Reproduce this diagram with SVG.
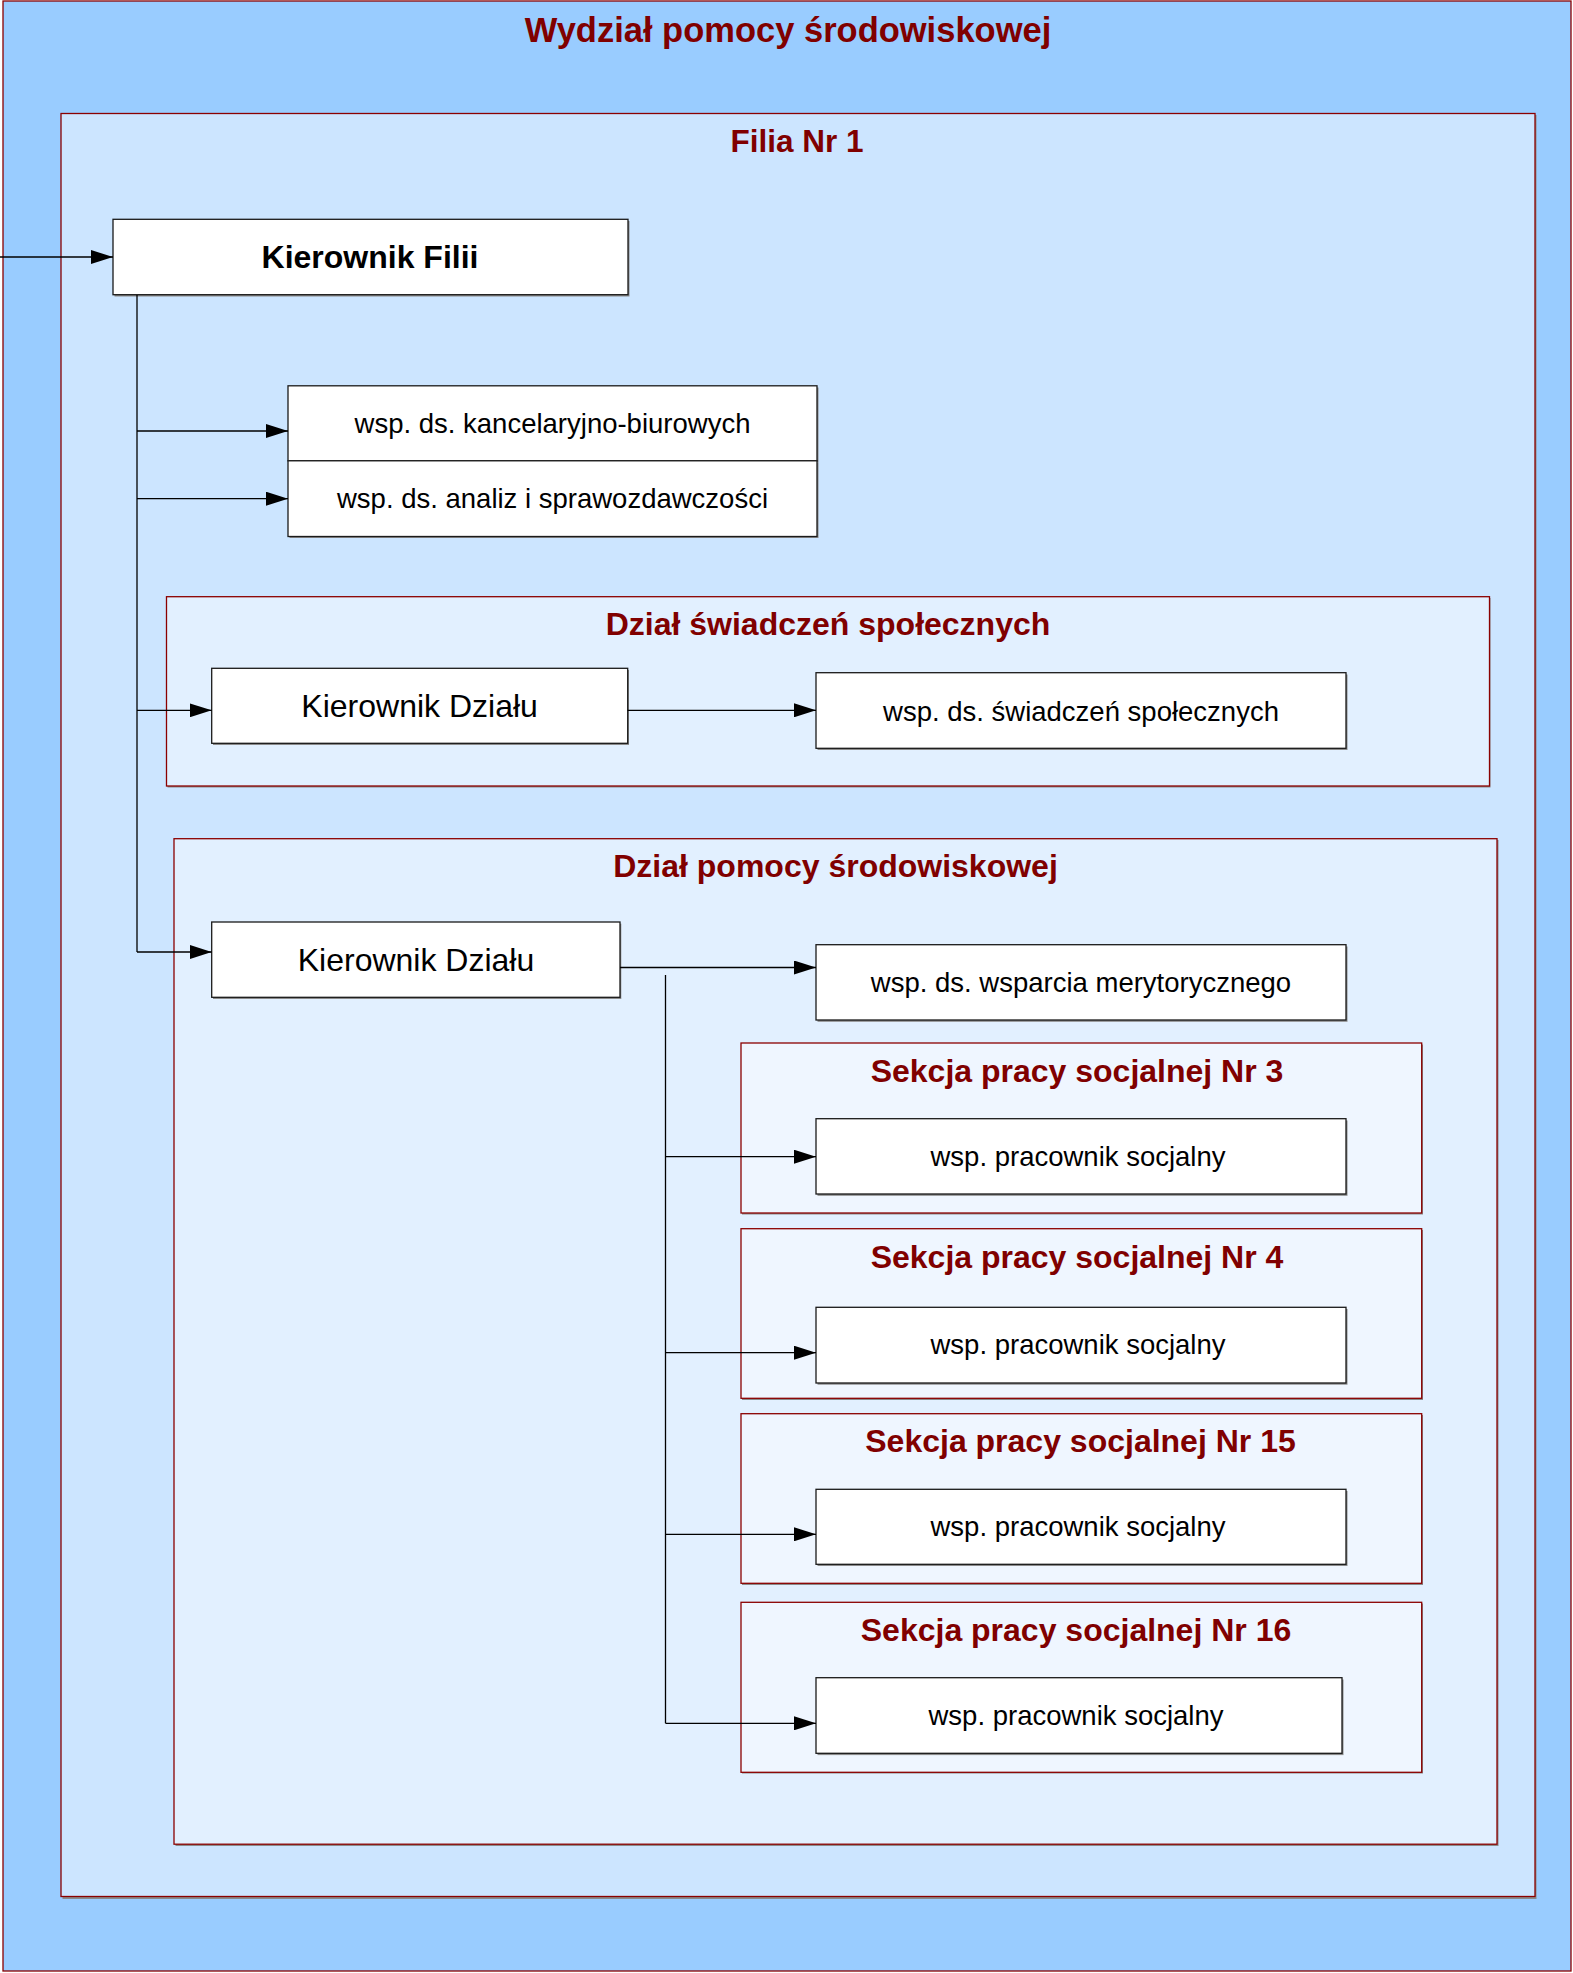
<svg xmlns="http://www.w3.org/2000/svg" width="1573" height="1973" viewBox="0 0 1573 1973">
  <style>
    .cont { stroke: #8b0000; stroke-width: 1.3; }
    .c0 { fill: #99ccff; }
    .c1 { fill: #cce5ff; }
    .c2 { fill: #e2f0ff; }
    .c3 { fill: #eff6ff; }
    .shadow { fill: #8a8a8a; }
    .node { fill: #ffffff; stroke: #1a1a1a; stroke-width: 1.3; }
    .title { font-family: "Liberation Sans", Arial, sans-serif; font-weight: bold; fill: #800000; text-anchor: middle; }
    .t32 { font-size: 32px; }
    .lbl { font-family: "Liberation Sans", Arial, sans-serif; fill: #000; text-anchor: middle; font-size: 27.5px; }
    .kd { font-size: 32px; }
    .kf { font-size: 32px; font-weight: bold; }
    .conn { fill: none; stroke: #000; stroke-width: 1.3; }
  </style>
  <defs>
    <marker id="arr" markerUnits="userSpaceOnUse" markerWidth="22" markerHeight="14" refX="22" refY="7" orient="auto">
      <path d="M0,0 L22,7 L0,14 z" fill="#000"/>
    </marker>
  </defs>

  <!-- Containers -->
  <g id="wydzial">
    <rect class="cont c0" x="3" y="1" width="1568" height="1970"/>
    <text class="title" x="788" y="42" style="font-size:34.5px">Wydział pomocy środowiskowej</text>
  </g>
  <g id="filia">
    <rect class="shadow" x="62.5" y="115" width="1474" height="1784"/>
    <rect class="cont c1" x="61" y="113.5" width="1474" height="1783"/>
    <text class="title" x="797" y="152" style="font-size:31.5px">Filia Nr 1</text>
  </g>
  <g id="dzial-swiadczen">
    <rect class="shadow" x="167.5" y="598" width="1323" height="189.5"/>
    <rect class="cont c2" x="166.5" y="596.7" width="1323" height="189.3"/>
    <text class="title t32" x="828" y="635">Dział świadczeń społecznych</text>
  </g>
  <g id="dzial-pomocy">
    <rect class="shadow" x="175.5" y="840" width="1323" height="1006"/>
    <rect class="cont c2" x="174" y="838.7" width="1323" height="1005.5"/>
    <text class="title t32" x="835.5" y="876.7">Dział pomocy środowiskowej</text>
  </g>
  <g id="sekcja-3">
    <rect class="shadow" x="742" y="1044.5" width="681" height="170"/>
    <rect class="cont c3" x="741" y="1043" width="680.7" height="170"/>
    <text class="title t32" x="1077" y="1082.3">Sekcja pracy socjalnej Nr 3</text>
  </g>
  <g id="sekcja-4">
    <rect class="shadow" x="742" y="1230" width="681" height="170"/>
    <rect class="cont c3" x="741" y="1228.7" width="680.7" height="169.6"/>
    <text class="title t32" x="1077" y="1267.5">Sekcja pracy socjalnej Nr 4</text>
  </g>
  <g id="sekcja-15">
    <rect class="shadow" x="742" y="1415" width="681" height="170"/>
    <rect class="cont c3" x="741" y="1413.7" width="680.7" height="169.6"/>
    <text class="title t32" x="1080.5" y="1452">Sekcja pracy socjalnej Nr 15</text>
  </g>
  <g id="sekcja-16">
    <rect class="shadow" x="742" y="1603.5" width="681" height="170"/>
    <rect class="cont c3" x="741" y="1602.3" width="680.7" height="170"/>
    <text class="title t32" x="1076" y="1641">Sekcja pracy socjalnej Nr 16</text>
  </g>

  <!-- Nodes -->
  <g id="kierownik-filii">
    <rect class="shadow" x="114.5" y="221" width="515" height="75.5"/>
    <rect class="node" x="113" y="219.3" width="515" height="75.4"/>
    <text class="lbl kf" x="370" y="268">Kierownik Filii</text>
  </g>
  <g id="wsp-kancelaryjno">
    <rect class="shadow" x="289.5" y="387.5" width="529" height="75"/>
    <rect class="node" x="288" y="385.8" width="529" height="75"/>
    <text class="lbl" x="552.5" y="433">wsp. ds. kancelaryjno-biurowych</text>
  </g>
  <g id="wsp-analiz">
    <rect class="shadow" x="289.5" y="462.5" width="529" height="75.5"/>
    <rect class="node" x="288" y="460.8" width="529" height="75.7"/>
    <text class="lbl" x="552.5" y="508">wsp. ds. analiz i sprawozdawczości</text>
  </g>
  <g id="kierownik-dzialu-1">
    <rect class="shadow" x="213" y="670" width="416" height="75"/>
    <rect class="node" x="211.7" y="668.3" width="416" height="75"/>
    <text class="lbl kd" x="419.6" y="716.7">Kierownik Działu</text>
  </g>
  <g id="wsp-swiadczen">
    <rect class="shadow" x="817.5" y="674.5" width="530" height="75.5"/>
    <rect class="node" x="816" y="672.7" width="530" height="75.6"/>
    <text class="lbl" x="1081" y="720.5">wsp. ds. świadczeń społecznych</text>
  </g>
  <g id="kierownik-dzialu-2">
    <rect class="shadow" x="213" y="923.7" width="408.3" height="75.3"/>
    <rect class="node" x="211.7" y="922" width="408.3" height="75.3"/>
    <text class="lbl kd" x="416" y="970.7">Kierownik Działu</text>
  </g>
  <g id="wsp-wsparcia">
    <rect class="shadow" x="817.5" y="946.5" width="530" height="75.3"/>
    <rect class="node" x="816" y="944.7" width="530" height="75.3"/>
    <text class="lbl" x="1081" y="992">wsp. ds. wsparcia merytorycznego</text>
  </g>
  <g id="wsp-pracownik-3">
    <rect class="shadow" x="817.5" y="1120.5" width="530" height="75.3"/>
    <rect class="node" x="816" y="1118.7" width="530" height="75.3"/>
    <text class="lbl" x="1078" y="1165.5">wsp. pracownik socjalny</text>
  </g>
  <g id="wsp-pracownik-4">
    <rect class="shadow" x="817.5" y="1309" width="530" height="75.7"/>
    <rect class="node" x="816" y="1307.3" width="530" height="75.7"/>
    <text class="lbl" x="1078" y="1354">wsp. pracownik socjalny</text>
  </g>
  <g id="wsp-pracownik-15">
    <rect class="shadow" x="817.5" y="1491" width="530" height="75"/>
    <rect class="node" x="816" y="1489.3" width="530" height="75"/>
    <text class="lbl" x="1078" y="1535.5">wsp. pracownik socjalny</text>
  </g>
  <g id="wsp-pracownik-16">
    <rect class="shadow" x="817.5" y="1679.5" width="526" height="75.6"/>
    <rect class="node" x="816" y="1677.7" width="526" height="75.6"/>
    <text class="lbl" x="1076" y="1725">wsp. pracownik socjalny</text>
  </g>

  <!-- Connectors -->
  <g id="connectors" class="conn">
    <path d="M0,257 H113" marker-end="url(#arr)"/>
    <path d="M137,295 V952"/>
    <path d="M137,431 H288" marker-end="url(#arr)"/>
    <path d="M137,498.7 H288" marker-end="url(#arr)"/>
    <path d="M137,710.3 H211.7" marker-end="url(#arr)"/>
    <path d="M137,952 H211.7" marker-end="url(#arr)"/>
    <path d="M627.6,710.3 H816" marker-end="url(#arr)"/>
    <path d="M620,967.5 H816" marker-end="url(#arr)"/>
    <path d="M665.5,975 V1723.3"/>
    <path d="M665.5,1156.7 H816" marker-end="url(#arr)"/>
    <path d="M665.5,1352.7 H816" marker-end="url(#arr)"/>
    <path d="M665.5,1534.3 H816" marker-end="url(#arr)"/>
    <path d="M665.5,1723.3 H816" marker-end="url(#arr)"/>
  </g>
</svg>
